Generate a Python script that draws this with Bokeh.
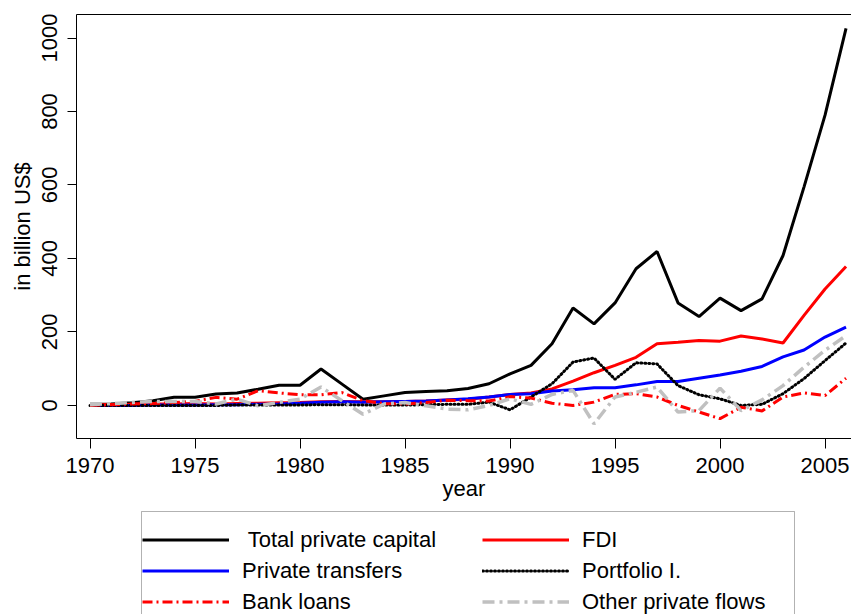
from bokeh.plotting import figure
from bokeh.models import Range1d, Legend, LegendItem, FixedTicker, LinearAxis, BoxAnnotation
from bokeh.layouts import column
from bokeh.embed import file_html
from bokeh.resources import INLINE

years = list(range(1970, 2007))
total_private = [3, 4, 7, 13, 22, 22, 31, 34, 44, 55, 55, 99, 58, 17, 26, 35, 38, 40, 46, 59,
                 86, 109, 168, 265, 222, 279, 372, 419, 279, 242, 292, 258, 290, 408, 595, 790, 1026]
fdi = [2, 2, 3, 4, 4, 5, 4, 5, 6, 7, 8, 10, 11, 10, 10, 11, 12, 15, 17, 23,
       30, 34, 45, 66, 89, 109, 131, 168, 172, 177, 175, 189, 181, 170, 245, 317, 378]
private_transfers = [0, 0, 0, 1, 1, 1, 2, 2, 3, 4, 6, 9, 10, 9, 10, 11, 12, 15, 18, 23,
                     30, 32, 39, 43, 48, 48, 56, 65, 65, 74, 83, 93, 106, 132, 151, 186, 213]
portfolio = [0, 0, 0, 0, 0, 0, 0, 1, 1, 1, 1, 2, 2, 1, 1, 1, 2, 3, 3, 9,
             -12, 23, 59, 118, 129, 71, 116, 113, 54, 29, 18, 0, 3, 32, 73, 122, 170]
bank_loans = [0, 2, 4, 5, 8, 11, 22, 17, 40, 34, 29, 29, 35, 13, 5, 4, 8, 14, 13, 12,
              24, 20, 6, 0, 9, 30, 32, 23, 0, -18, -36, -5, -15, 23, 34, 27, 74]
other_flows = [2, 5, 8, 11, 11, 11, 4, 17, -1, 8, 17, 50, 13, -24, 4, 8, -1, -10, -12, 0,
               18, 3, 30, 41, -50, 23, 36, 50, -18, -14, 47, -14, 15, 54, 104, 150, 190]

series_labels = [" Total private capital", "FDI", "Private transfers",
                 "Portfolio I.", "Bank loans", "Other private flows"]
x_ticks = [1970, 1975, 1980, 1985, 1990, 1995, 2000, 2005]
y_ticks = [0, 200, 400, 600, 800, 1000]

FONT = "Liberation Sans"
FS = "22px"

styles = [
    dict(line_color="black", line_width=3),
    dict(line_color="#ff0000", line_width=3),
    dict(line_color="#0000ff", line_width=3),
    dict(line_color="black", line_width=3, line_dash="1 3", line_cap="round"),
    dict(line_color="#ff0000", line_width=3, line_dash="10 4 2 4"),
    dict(line_color="#c0c0c0", line_width=3.5, line_dash="12 5 3 5"),
]
series = [total_private, fdi, private_transfers, portfolio, bank_loans, other_flows]

p = figure(width=851, height=508, output_backend="svg", toolbar_location=None,
           x_range=Range1d(1969.357, 2006.26), y_range=Range1d(-90, 1064),
           min_border_left=76, min_border_top=14, min_border_right=0, min_border_bottom=70,
           background_fill_color="white", border_fill_color="white")
p.grid.visible = False
p.outline_line_color = None

for ax in (p.xaxis[0], p.yaxis[0]):
    ax.axis_line_color = "black"
    ax.major_tick_line_color = "black"
    ax.minor_tick_line_color = None
    ax.major_tick_in = 0
    ax.major_label_text_font = FONT
    ax.major_label_text_font_size = FS
    ax.major_label_text_color = "black"
    ax.axis_label_text_font = FONT
    ax.axis_label_text_font_size = FS
    ax.axis_label_text_font_style = "normal"
    ax.axis_label_text_color = "black"

p.xaxis[0].ticker = FixedTicker(ticks=x_ticks)
p.xaxis[0].major_tick_out = 10
p.xaxis[0].major_label_standoff = 9
p.xaxis[0].axis_label = "year"
p.xaxis[0].axis_label_standoff = 0

p.yaxis[0].ticker = FixedTicker(ticks=y_ticks)
p.yaxis[0].major_tick_out = 9
p.yaxis[0].major_label_orientation = "vertical"
p.yaxis[0].major_label_standoff = 10
p.yaxis[0].axis_label = "in billion US$"
p.yaxis[0].axis_label_standoff = 5

# top border line of the plot box (no right border visible in the reference)
top_axis = LinearAxis(ticker=FixedTicker(ticks=[]), axis_line_color="black",
                      major_tick_line_color=None, minor_tick_line_color=None,
                      major_label_text_font_size="0px")
p.add_layout(top_axis, "above")

for ys, st in zip(series, styles):
    p.line(years, ys, **st)

# legend panel below the chart; its frame is aligned with the chart frame (x from 76 to 851)
q = figure(width=851, height=106, output_backend="svg", toolbar_location=None,
           x_range=Range1d(76, 851), y_range=Range1d(614, 508),
           x_axis_type=None, y_axis_type=None,
           min_border_left=0, min_border_right=0, min_border_top=0, min_border_bottom=0,
           background_fill_color="white", border_fill_color="white")
q.grid.visible = False
q.outline_line_color = None
# same series placed outside the visible range, only to provide legend glyphs
proxies = [q.line(years, ys, **st) for ys, st in zip(series, styles)]

q.add_layout(BoxAnnotation(left=141, right=794, top=511, bottom=640,
                           fill_color=None, fill_alpha=0, line_color="black", line_width=1))

legend = Legend(items=[LegendItem(label=series_labels[i], renderers=[proxies[i]]) for i in range(6)],
                location=(66, -3), orientation="horizontal", ncols=2)
legend.label_text_font = FONT
legend.label_text_font_size = FS
legend.label_text_color = "black"
legend.border_line_color = None
legend.background_fill_alpha = 0
legend.padding = 6
legend.spacing = 0
legend.margin = 0
legend.glyph_width = 87
legend.glyph_height = 31
legend.label_height = 31
legend.label_standoff = 13
legend.label_width = 240
q.add_layout(legend, "center")

open("out.html", "w").write(file_html(column(p, q), INLINE))
